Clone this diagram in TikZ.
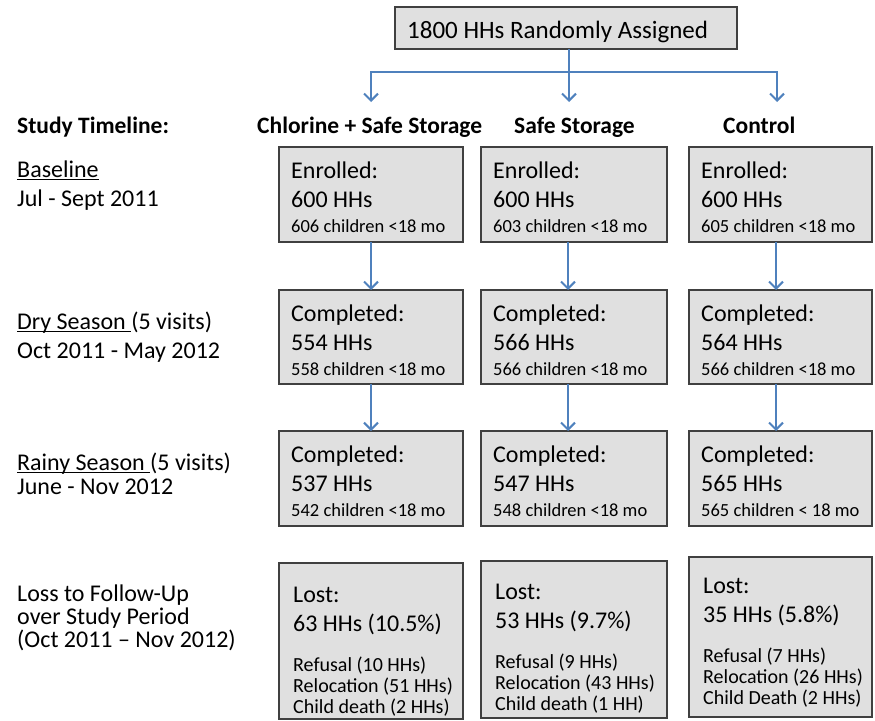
\documentclass[tikz,border=0pt]{standalone}
\usepackage{fontspec}
\setmainfont{Carlito}
\usetikzlibrary{arrows.meta}
\definecolor{arrowblue}{RGB}{79,129,189}
\definecolor{boxfill}{RGB}{224,224,224}
\definecolor{boxline}{RGB}{64,64,64}
\newcommand{\ulin}[1]{{\setbox0\hbox{#1}\rlap{\rule[-3pt]{\wd0}{1.4pt}}\box0}}
\tikzset{
  box/.style={draw=boxline, fill=boxfill, line width=1.2pt, rectangle, inner sep=0pt, outer sep=0pt, anchor=north west},
  bigtxt/.style={inner sep=0pt, anchor=base west, font=\fontsize{24}{29}\selectfont},
  smalltxt/.style={inner sep=0pt, anchor=base west, font=\fontsize{18.5}{22}\selectfont},
  losstxt/.style={inner sep=0pt, anchor=base west, font=\fontsize{20}{24}\selectfont},
  hdr/.style={inner sep=0pt, anchor=base west, font=\fontsize{23.5}{28}\selectfont\bfseries},
  lbl/.style={inner sep=0pt, anchor=base west, font=\fontsize{24}{29}\selectfont},
  arr/.style={draw=arrowblue, line width=1.6pt, -{Straight Barb[length=7pt,width=14pt,line width=2pt]}},
}
\newcommand{\stagebox}[8]{%
  \node[box, minimum width=#4pt, minimum height=#5pt] (#1) at (#2,#3) {};
  \node[bigtxt] (#1a) at ([shift={(12,31)}]#1.north west) {#6};
  \node[bigtxt] (#1b) at ([shift={(12,60)}]#1.north west) {#7};
  \node[smalltxt] (#1c) at ([shift={(12,85)}]#1.north west) {#8};
}
\newcommand{\lossdy}{0}
\newcommand{\lossbox}[9]{%
  \node[box, minimum width=#4pt, minimum height=#5pt] (#1) at (#2,#3) {};
  \node[bigtxt] (#1a) at ([shift={(14,36+\lossdy)}]#1.north west) {Lost:};
  \node[bigtxt] (#1b) at ([shift={(14,65+\lossdy)}]#1.north west) {#6};
  \node[losstxt] (#1c) at ([shift={(14,105+\lossdy)}]#1.north west) {#7};
  \node[losstxt] (#1d) at ([shift={(14,126+\lossdy)}]#1.north west) {#8};
  \node[losstxt] (#1e) at ([shift={(14,147+\lossdy)}]#1.north west) {#9};
}
\begin{document}
\begin{tikzpicture}[x=1pt,y=-1pt]
\useasboundingbox (0,0) rectangle (875,720);
% top box
\node[box, minimum width=342pt, minimum height=42pt] (top) at (395,7) {};
\node[inner sep=0pt, anchor=base west, font=\fontsize{25}{30}\selectfont] (toptxt) at ([shift={(12,31)}]top.north west) {1800 HHs Randomly Assigned};
% branching
\coordinate (j) at (569,72);
\coordinate (e1) at (371,102);
\coordinate (e2) at (569,102);
\coordinate (e3) at (777,102);
\draw[arr] (top.south -| j) -- (e2);
\draw[arr] (j) -| (e1);
\draw[arr] (j) -| (e3);
% headers
\node[hdr] (h0) at (17,133) {Study Timeline:};
\node[hdr] (h1) at (257,133) {Chlorine + Safe Storage};
\node[hdr] (h2) at (514,133) {Safe Storage};
\node[hdr] (h3) at (723,133) {Control};
% left labels
\node[lbl] (l1a) at (17,177) {\ulin{Baseline}};
\node[lbl] (l1b) at (17,206) {Jul - Sept 2011};
\node[lbl] (l2a) at (17,329) {\ulin{Dry Season\ }(5 visits)};
\node[lbl] (l2b) at (17,358) {Oct 2011 - May 2012};
\node[lbl] (l3a) at (17,470) {\ulin{Rainy Season\ }(5 visits)};
\node[lbl] (l3b) at (17,494) {June - Nov 2012};
\node[lbl] (l4a) at (17,601) {Loss to Follow-Up};
\node[lbl] (l4b) at (17,624) {over Study Period};
\node[lbl] (l4c) at (17,647) {(Oct 2011 – Nov 2012)};
% row 1
\stagebox{b11}{279}{147}{184}{95}{Enrolled:}{600 HHs}{606 children <18 mo}
\stagebox{b21}{481}{147}{186}{95}{Enrolled:}{600 HHs}{603 children <18 mo}
\stagebox{b31}{689}{147}{183}{95}{Enrolled:}{600 HHs}{605 children <18 mo}
% row 2
\stagebox{b12}{279}{290}{184}{94}{Completed:}{554 HHs}{558 children <18 mo}
\stagebox{b22}{481}{290}{186}{94}{Completed:}{566 HHs}{566 children <18 mo}
\stagebox{b32}{689}{290}{183}{94}{Completed:}{564 HHs}{566 children <18 mo}
% row 3
\stagebox{b13}{279}{431}{184}{95}{Completed:}{537 HHs}{542 children <18 mo}
\stagebox{b23}{481}{431}{186}{95}{Completed:}{547 HHs}{548 children <18 mo}
\stagebox{b33}{689}{431}{183}{95}{Completed:}{565 HHs}{565 children < 18 mo}
% loss
\renewcommand{\lossdy}{3}
\lossbox{b14}{279}{563}{184}{156}{63 HHs (10.5\%)}{Refusal (10 HHs)}{Relocation (51 HHs)}{Child death (2 HHs)}
\renewcommand{\lossdy}{2}
\lossbox{b24}{481}{561}{186}{157}{53 HHs (9.7\%)}{Refusal (9 HHs)}{Relocation (43 HHs)}{Child death (1 HH)}
\renewcommand{\lossdy}{0}
\lossbox{b34}{689}{557}{183}{160}{35 HHs (5.8\%)}{Refusal (7 HHs)}{Relocation (26 HHs)}{Child Death (2 HHs)}
% column arrows
\coordinate (c1) at (371,0);
\coordinate (c2) at (568,0);
\coordinate (c3) at (776,0);
\draw[arr] (b11.south -| c1) -- (b12.north -| c1);
\draw[arr] (b12.south -| c1) -- (b13.north -| c1);
\draw[arr] (b21.south -| c2) -- (b22.north -| c2);
\draw[arr] (b22.south -| c2) -- (b23.north -| c2);
\draw[arr] (b31.south -| c3) -- (b32.north -| c3);
\draw[arr] (b32.south -| c3) -- (b33.north -| c3);
\end{tikzpicture}
\end{document}
